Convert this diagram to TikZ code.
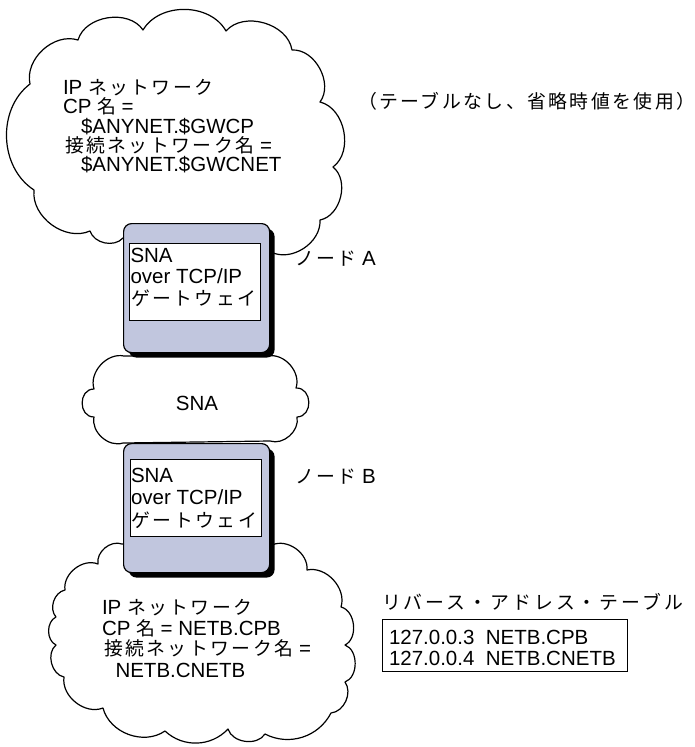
\documentclass[tikz,border=0pt]{standalone}
\usepackage{fontspec}
\setmainfont{Liberation Sans}
\newfontfamily\jp[Scale=0.92,LetterSpace=13]{Noto Sans CJK JP}
\newfontfamily\jpw[Scale=0.92,LetterSpace=16]{Noto Sans CJK JP}
\usetikzlibrary{shadows}
\definecolor{boxfill}{RGB}{193,198,222}
\begin{document}
\begin{tikzpicture}[x=1pt,y=1pt,
  cloudline/.style={draw=black, line width=1.2pt, fill=white, line join=round},
  txt/.style={inner sep=0pt, outer sep=0pt, anchor=base west, text height=14.5pt, text depth=3pt,
    font=\fontsize{20.5}{24}\selectfont},
  ctxt/.style={inner sep=0pt, outer sep=0pt, font=\fontsize{20.5}{24}\selectfont},
  gwouter/.style={draw=black, line width=1.2pt, fill=boxfill, rounded corners=8pt,
    minimum width=146pt, minimum height=129pt, anchor=north west, inner sep=0pt,
    drop shadow={shadow xshift=5pt, shadow yshift=-5pt, fill=black, opacity=1}},
  gwinner/.style={draw=black, line width=1.1pt, fill=white, minimum width=131pt,
    minimum height=77pt, anchor=north west, inner sep=0pt},
  tblbox/.style={draw=black, line width=1pt, minimum width=245pt, minimum height=52pt,
    anchor=north west, inner sep=0pt}
]
\fill[white] (0,0) rectangle (694,-747);
\useasboundingbox (0,0) rectangle (694,-747);

% top cloud (IP network)
\draw[cloudline] (123,-238) to[bend left=60] (90,-231) to[bend left=60] (34,-190)
  to[bend left=55] (30,-84) to[bend left=60] (78,-40) to[bend left=65] (143,-30)
  to[bend left=60] (226,-31) to[bend left=65] (292,-50) to[bend left=65] (320,-102)
  to[bend left=65] (333,-167) to[bend left=65] (320,-220) to[bend left=60] (271,-252) -- cycle;

% SNA cloud
\draw[cloudline] (268,-356) to[bend left=60] (296,-388)
  to[bend left=90,looseness=1.45] (297,-417) to[bend left=60] (270,-441) -- (123,-443)
  to[bend left=60] (94,-417) to[bend left=90,looseness=1.45] (94,-389)
  to[bend left=60] (124,-356) -- cycle;

% bottom cloud (IP network)
\draw[cloudline] (272,-545) to[bend left=60] (307,-570) to[bend left=60] (341,-607)
  to[bend left=70] (345,-645) to[bend left=70] (345,-682) to[bend left=60] (331,-713)
  to[bend left=45] (265,-734) to[bend left=65] (228,-729) to[bend left=45] (165,-731)
  to[bend left=55] (103,-708) to[bend left=60] (64,-677) to[bend left=65] (56,-645)
  to[bend left=65] (56,-617) to[bend left=60] (65,-590) to[bend left=60] (98,-564)
  to[bend left=60] (122,-544) -- cycle;

% gateway boxes
\node[gwouter] (gwA) at (123,-223) {};
\node[gwinner] (inA) at (129,-243) {};
\node[gwouter] (gwB) at (123,-443) {};
\node[gwinner] (inB) at (130,-459) {};

% top cloud text
\node[txt] (t1) at (63,-94) {IP {\jp ネットワーク}};
\node[txt] (t2) at (63,-113.5) {CP {\jp 名} =};
\node[txt] (t3) at (81,-133) {\$ANYNET.\$GWCP};
\node[txt] (t4) at (65,-152.5) {{\jp 接続ネットワーク名} =};
\node[txt] (t5) at (81,-171) {\$ANYNET.\$GWCNET};

\node[txt] (note) at (358,-108) {\jp （テーブルなし、省略時値を使用）\hspace*{-14pt}};

% gateway A text
\node[txt] (a1) at (130.5,-262) {SNA};
\node[txt] (a2) at (130.5,-283) {over TCP/IP};
\node[txt] (a3) at (131,-305) {\jp ゲートウェイ};
\node[txt] (nodeA) at (295,-265) {{\jp ノード} A};

% SNA cloud label
\node[ctxt] (sna) at (197,-403) {SNA};

% gateway B text
\node[txt] (b1) at (131,-482) {SNA};
\node[txt] (b2) at (131,-504) {over TCP/IP};
\node[txt] (b3) at (131.5,-527) {\jp ゲートウェイ};
\node[txt] (nodeB) at (295,-483) {{\jp ノード} B};

% bottom cloud text
\node[txt] (u1) at (102,-614) {IP {\jp ネットワーク}};
\node[txt] (u2) at (102,-635) {CP {\jp 名} = NETB.CPB};
\node[txt] (u3) at (104,-655) {{\jp 接続ネットワーク名} =};
\node[txt] (u4) at (115.5,-677) {NETB.CNETB};

% reverse address table
\node[txt] (tbltitle) at (382,-609) {\jpw リバース・アドレス・テーブル};
\node[tblbox] (tbl) at (382,-619) {};
\node[txt] (r1) at (389,-644) {127.0.0.3~~NETB.CPB};
\node[txt] (r2) at (389,-665) {127.0.0.4~~NETB.CNETB};
\end{tikzpicture}
\end{document}
